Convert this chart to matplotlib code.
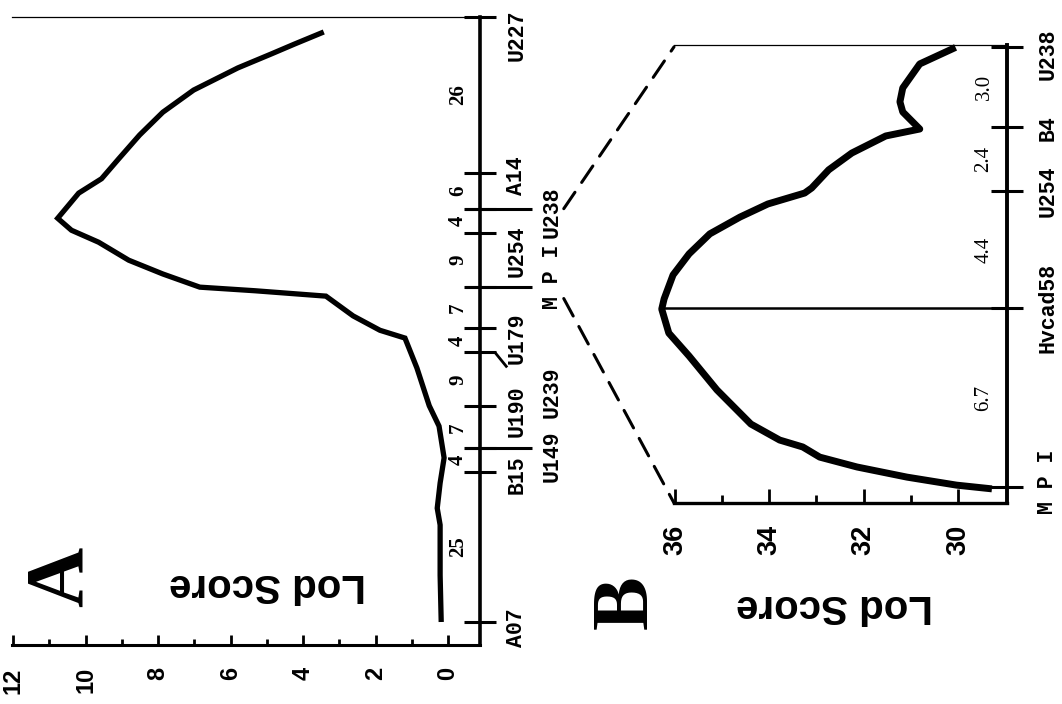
import matplotlib
matplotlib.use("Agg")
import matplotlib.pyplot as plt
import matplotlib.transforms as mtransforms
from matplotlib.patches import ConnectionPatch
import numpy as np

# ---------------- data ----------------
# Panel A: chromosome markers and intervals (cM)
markers_A = ["A07", "B15", "U149", "U190", "U239", "U179", "M P I", "U254", "U238", "A14", "U227"]
dist_A = [25, 4, 7, 9, 4, 7, 9, 4, 6, 26]
lod_ticks_A = [0, 2, 4, 6, 8, 10, 12]
curve_A_cm = [98.5, 96.5, 94.8, 92.5, 88.8, 85.1, 81.3, 77.3, 74.0, 71.6, 67.4, 65.4, 63.4,
              60.4, 58.1, 55.9, 55.3, 54.4, 51.1, 48.7, 47.4, 42.4, 36.1, 32.7, 27.4, 23.2,
              19.0, 16.2, 7.8, 0.0]
curve_A_lod = [3.43, 4.23, 4.89, 5.80, 7.02, 7.87, 8.51, 9.09, 9.56, 10.19, 10.77, 10.39, 9.64,
               8.81, 7.87, 6.85, 5.33, 3.37, 2.62, 1.88, 1.19, 0.86, 0.52, 0.25, 0.11, 0.22,
               0.30, 0.22, 0.22, 0.19]

# Panel B: fine map MPI..U238
markers_B = ["M P I", "Hvcad58", "U254", "B4", "U238"]
dist_B = ["6.7", "4.4", "2.4", "3.0"]
dist_B_val = [6.7, 4.4, 2.4, 3.0]
lod_ticks_B = [30, 32, 34, 36]
curve_B_cm = [16.48, 15.86, 14.96, 14.44, 14.06, 13.42, 13.16, 12.52, 11.89, 11.21, 11.02,
              10.61, 10.12, 9.49, 8.74, 7.95, 7.05, 6.67, 5.77, 4.91, 3.64, 2.36, 1.76, 1.50,
              1.12, 0.75, 0.37, 0.07, -0.07]
curve_B_lod = [30.05, 30.81, 31.17, 31.23, 31.17, 30.81, 31.53, 32.25, 32.74, 33.10, 33.25,
               34.03, 34.62, 35.26, 35.70, 36.04, 36.23, 36.28, 36.13, 35.70, 35.11, 34.39,
               33.78, 33.29, 32.93, 32.14, 31.08, 30.03, 29.28]

pos_A = np.concatenate([[0], np.cumsum(dist_A)])
pos_B = np.concatenate([[0], np.cumsum(dist_B_val)])

# ---------------- figure ----------------
W, H = 1062, 704
fig = plt.figure(figsize=(W / 100, H / 100), dpi=100)

def rect(x0, x1, ytop, ybot):
    return [x0 / W, (H - ybot) / H, (x1 - x0) / W, (ybot - ytop) / H]

SANS = "Liberation Sans"
MONO = "Liberation Mono"
SERIF = "Liberation Serif"

def style_axes(ax, spine_lw):
    ax.spines["left"].set_visible(False)
    ax.spines["top"].set_linewidth(0.9)
    ax.spines["bottom"].set_linewidth(spine_lw)
    ax.spines["right"].set_linewidth(spine_lw + 0.4)
    ax.patch.set_visible(False)

# ---------------- Panel A ----------------
axA = fig.add_axes(rect(12, 480, 17, 645))
axA.set_xlim(12.03, -0.88)
axA.set_ylim(-3.84, 101.0)
style_axes(axA, 2.2)
axA.plot(curve_A_lod, curve_A_cm, color="black", lw=3.8, solid_capstyle="butt",
         solid_joinstyle="miter", clip_on=False)

axA.set_xticks(lod_ticks_A)
axA.set_xticklabels([str(t) for t in lod_ticks_A], rotation=90, fontsize=17,
                    fontweight="bold", family=SANS)
axA.set_xticks([1, 3, 5, 7, 9, 11], minor=True)
axA.tick_params(axis="x", which="major", direction="in", length=7, width=2, pad=16)
axA.tick_params(axis="x", which="minor", direction="in", length=4, width=2)
axA.set_yticks(pos_A)
axA.set_yticklabels([])
axA.tick_params(axis="y", which="major", left=False, right=True, direction="inout",
                length=23, width=2.2)

blendA = mtransforms.blended_transform_factory(axA.transAxes, axA.transData)
col2 = {2, 4, 6, 8}
label_dy_A = {"A07": 6, "B15": 2, "U190": 5, "U179": 10, "U254": 19, "A14": 3, "U227": 18,
              "U149": 8, "U239": 40, "M P I": -10, "U238": 4}
for i, (name, p) in enumerate(zip(markers_A, pos_A)):
    xf = 1.154 if i in col2 else 1.079
    axA.annotate(name, xy=(xf, p), xycoords=blendA,
                 xytext=(0, -label_dy_A[name] * 0.72), textcoords="offset points",
                 rotation=90, ha="center", va="center", fontsize=15.5,
                 fontweight="bold", family=MONO, annotation_clip=False)
    if i in (2, 6, 8):
        axA.plot([0.968, 1.111], [p, p], transform=blendA, color="black", lw=2.2,
                 clip_on=False, solid_capstyle="butt")
    if i == 4:
        axA.plot([0.968, 1.032, 1.058], [p, p, p - 2.5], transform=blendA, color="black",
                 lw=2.0, clip_on=False, solid_capstyle="butt")

for d, a, b in zip(dist_A, pos_A[:-1], pos_A[1:]):
    axA.text(0.953, (a + b) / 2, str(d), transform=blendA, rotation=90, ha="center",
             va="center", fontsize=15, fontweight="bold", family=SERIF)

axA.text(268, 585, "Lod Score", transform=None, fontsize=29, fontweight="bold",
         family=SANS, rotation=180, ha="center", va="center")
fig.text(62 / W, 1 - 577 / H, "A", fontsize=60, fontweight="bold", family=SERIF,
         rotation=90, ha="center", va="center")

# ---------------- Panel B ----------------
axB = fig.add_axes(rect(674, 1007, 45, 503))
axB.set_xlim(36.02, 28.96)
axB.set_ylim(-0.6, 16.57)
style_axes(axB, 2.4)
axB.plot(curve_B_lod, curve_B_cm, color="black", lw=5.0, solid_capstyle="butt",
         clip_on=False)
peak = max(curve_B_lod)
axB.plot([peak, axB.get_xlim()[1]], [pos_B[1], pos_B[1]], color="black", lw=1.8,
         clip_on=False)

axB.set_xticks(lod_ticks_B)
axB.set_xticklabels([str(t) for t in lod_ticks_B], rotation=90, fontsize=19.5,
                    fontweight="bold", family=SANS)
axB.set_xticks([31, 33, 35], minor=True)
axB.tick_params(axis="x", which="major", direction="in", length=10, width=2, pad=16)
axB.tick_params(axis="x", which="minor", direction="in", length=6, width=2)
axB.set_yticks(pos_B)
axB.set_yticklabels([])
axB.tick_params(axis="y", which="major", left=False, right=True, direction="inout",
                length=23, width=2.2)

blendB = mtransforms.blended_transform_factory(axB.transAxes, axB.transData)
label_dy_B = {"M P I": -5, "Hvcad58": 0, "U254": 0, "B4": 1, "U238": 7}
for name, p in zip(markers_B, pos_B):
    axB.annotate(name, xy=(1.123, p), xycoords=blendB,
                 xytext=(0, -label_dy_B[name] * 0.72), textcoords="offset points",
                 rotation=90, ha="center", va="center", fontsize=15.5,
                 fontweight="bold", family=MONO, annotation_clip=False)
for d, a, b in zip(dist_B, pos_B[:-1], pos_B[1:]):
    axB.text(0.931, (a + b) / 2, d, transform=blendB, rotation=90, ha="center",
             va="center", fontsize=15, family=SERIF)

axB.text(835, H - 606, "Lod Score", transform=None, fontsize=29, fontweight="bold",
         family=SANS, rotation=180, ha="center", va="center")
fig.text(627 / W, 1 - 602 / H, "B", fontsize=58, fontweight="bold", family=SERIF,
         rotation=90, ha="center", va="center")

# Fix the A "Lod Score" (given in pixel coords from top)
for t in axA.texts:
    if t.get_text() == "Lod Score":
        t.set_position((268, H - 585))

# ---------------- dashed connectors ----------------
dash = (0, (6.5, 3.9))
iU238 = markers_A.index("U238")
iMPI = markers_A.index("M P I")
con1 = ConnectionPatch(xyA=(1.179, pos_A[iU238]), coordsA=blendA,
                       xyB=(0.0, pos_B[-1]), coordsB=blendB,
                       color="black", lw=2.2, linestyle=dash)
con2 = ConnectionPatch(xyA=(1.179, pos_A[iMPI] - 2), coordsA=blendA,
                       xyB=(0.0, 0.0), coordsB=axB.transAxes,
                       color="black", lw=2.2, linestyle=dash)
fig.add_artist(con1)
fig.add_artist(con2)

fig.savefig("out.png", dpi=100, facecolor="white")
